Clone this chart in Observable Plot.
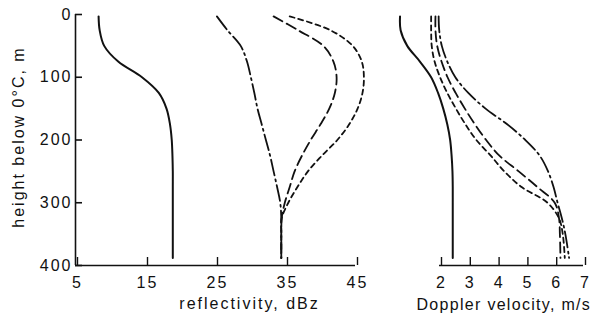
<!DOCTYPE html>
<html><head><meta charset="utf-8">
<script src="https://cdn.jsdelivr.net/npm/d3@7"></script>
<script src="https://cdn.jsdelivr.net/npm/@observablehq/plot@0.6"></script>
<style>
body{margin:0;background:#fff}
#wrap{position:relative;width:598px;height:316px;overflow:hidden;background:#fff}
#wrap svg{position:absolute;left:0;top:0;overflow:visible}
#wrap svg text{font-family:"Liberation Sans",Arial,sans-serif;letter-spacing:2px;fill:#111}
#wrap svg text.tight{letter-spacing:1.3px}
</style></head><body><div id="wrap"></div>
<script>
// heights below 0°C (m), shared by all profiles
const heights = [3, 25, 50, 75, 100, 125, 150, 175, 200, 225, 250, 275, 300, 325, 350, 388];

// reflectivity profiles (dBz)
const zSolid    = [8.3, 8.45, 9.1, 11.1, 14.5, 16.9, 18.0, 18.5, 18.75, 18.85, 18.9, 18.9, 18.9, 18.9, 18.9, 18.9];
const zDashDot  = [25.2, 26.7, 28.6, 29.5, 30.05, 30.55, 31.0, 31.6, 32.2, 32.8, 33.3, 33.8, 34.25, 34.4, 34.4, 34.4];
const zLongDash = [33.3, 36.8, 40.4, 41.85, 42.3, 42.05, 41.25, 40.0, 38.6, 37.35, 36.3, 35.6, 34.9, 34.45, 34.4, 34.4];
const zShortDash= [35.6, 41.4, 44.6, 45.9, 46.2, 46.0, 45.3, 44.1, 42.4, 40.2, 38.2, 36.7, 35.4, 34.45, 34.4, 34.4];

// Doppler velocity profiles (m/s)
const vSolid    = [0.63, 0.65, 0.88, 1.32, 1.71, 1.95, 2.13, 2.27, 2.37, 2.42, 2.45, 2.46, 2.46, 2.46, 2.46, 2.46];
const vDashDot  = [1.97, 1.99, 2.08, 2.27, 2.55, 3.0, 3.6, 4.35, 4.98, 5.48, 5.77, 5.96, 6.1, 6.25, 6.37, 6.5];
const vLongDash = [1.86, 1.86, 1.92, 2.07, 2.28, 2.56, 2.88, 3.23, 3.62, 4.08, 4.75, 5.4, 6.0, 6.15, 6.18, 6.2];
const vShortDash= [1.71, 1.71, 1.73, 1.83, 2.02, 2.27, 2.57, 2.9, 3.28, 3.78, 4.25, 4.85, 5.75, 6.15, 6.28, 6.35];

// tick labels
const zTicks = [5, 15, 25, 35, 45];
const vTicks = [2, 3, 4, 5, 6, 7];
const hTicks = [0, 100, 200, 300, 400];

const styles = [
  {dash: null, width: 2},
  {dash: "16,4,2,4", width: 1.8},
  {dash: "10,5", width: 1.8},
  {dash: "5,4", width: 1.8}
];

function rows(values) { return heights.map((h, i) => ({h, v: values[i]})); }
function lines(list) {
  return list.map((vals, k) => Plot.line(rows(vals), {
    x: "v", y: "h", stroke: "#111", strokeWidth: styles[k].width,
    strokeDasharray: styles[k].dash, curve: "catmull-rom"
  }));
}

const common = {
  width: 598, height: 316, marginTop: 14, marginBottom: 51,
  style: {background: "transparent", fontSize: "16px", color: "#111", overflow: "visible"}
};

const left = Plot.plot({
  ...common,
  marginLeft: 75, marginRight: 243,
  x: {domain: [5, 45]},
  y: {domain: [0, 400], reverse: true},
  marks: [
    Plot.ruleX([5], {stroke: "#111", strokeWidth: 1.6}),
    Plot.ruleY([400], {stroke: "#111", strokeWidth: 1.6}),
    Plot.axisY({ticks: hTicks, tickSize: -7, tickPadding: 10, tickFormat: d => String(d), label: null, strokeWidth: 1.6}),
    Plot.axisX({ticks: zTicks, tickSize: -8, tickPadding: 19, tickFormat: d => String(d), label: null, strokeWidth: 1.4, dx: 2}),
    ...lines([zSolid, zDashDot, zLongDash, zShortDash]),
    Plot.text(["reflectivity, dBz"], {frameAnchor: "bottom", textAnchor: "middle", lineAnchor: "middle", dx: 34, dy: 38, fontSize: 16}),
    Plot.text(["height below 0°C, m"], {frameAnchor: "left", textAnchor: "middle", lineAnchor: "middle", rotate: -90, dx: -57, dy: -3, fontSize: 16})
  ]
});

const right = Plot.plot({
  ...common,
  marginLeft: 439, marginRight: 15,
  x: {domain: [2, 7]},
  y: {domain: [0, 400], reverse: true, axis: null},
  marks: [
    Plot.ruleY([400], {stroke: "#111", strokeWidth: 1.6}),
    Plot.axisX({ticks: vTicks, tickSize: -8, tickPadding: 19, tickFormat: d => String(d), label: null, strokeWidth: 1.4, dx: 2}),
    ...lines([vSolid, vDashDot, vLongDash, vShortDash]),
    Plot.text(["Doppler velocity, m/s"], {frameAnchor: "bottom-left", textAnchor: "start", lineAnchor: "middle", dx: -23, dy: 39, fontSize: 16, className: "tight"})
  ]
});

const wrap = document.getElementById("wrap");
wrap.appendChild(left);
wrap.appendChild(right);
wrap.querySelectorAll("g.tight text, g[class*=tight] text").forEach(t => t.setAttribute("class", "tight"));
</script>
</body></html>
